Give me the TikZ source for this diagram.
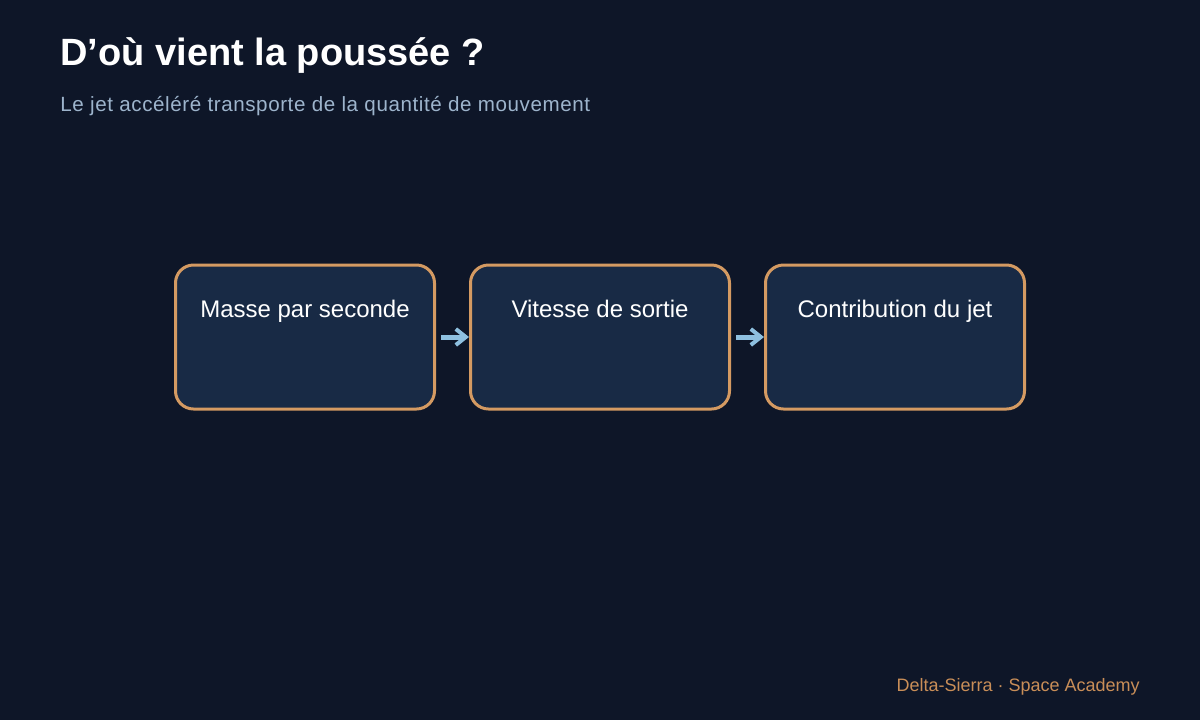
\documentclass[tikz,border=0pt]{standalone}
\usepackage{fontspec}
\setmainfont{Liberation Sans}
\usetikzlibrary{positioning,arrows.meta}
\definecolor{bgcol}{HTML}{0E1628}
\definecolor{boxfill}{HTML}{182A45}
\definecolor{boxline}{HTML}{D49A62}
\definecolor{subcol}{HTML}{9DB4CC}
\definecolor{arrcol}{HTML}{8EC0E0}
\definecolor{footcol}{HTML}{C98E58}
\begin{document}
\begin{tikzpicture}[x=0.5pt,y=-0.5pt]
				\tikzstyle{b}=[rectangle, rounded corners=9pt, draw=boxline, fill=boxfill, line width=1.5pt, minimum width=129.5pt, inner sep=0pt, text height=26pt, text depth=46pt, text=white, font=\fontsize{12}{14}\selectfont]
				\tikzstyle{a}=[draw=arrcol, line width=2.5pt, -{Straight Barb[length=5pt,width=8pt,line width=2pt]}, shorten <=2.5pt]

				\fill[bgcol] (0,0) rectangle (1200,720);

				\node[anchor=base west, text=white, font=\fontsize{19}{22}\selectfont\bfseries, inner sep=0pt] (title) at (60,65) {D’où vient la poussée ?};
				\node[anchor=base west, text=subcol, font=\fontsize{10.3}{12}\addfontfeature{LetterSpace=2.8}, inner sep=0pt] (sub) at (60,111) {Le jet accéléré transporte de la quantité de mouvement};

				\node[b, anchor=base] (mass) at (305,317) {Masse par seconde};
				\node[b] (speed) [right=16.5pt of mass] {Vitesse de sortie};
				\node[b] (jet) [right=16.5pt of speed] {Contribution du jet};

				\foreach \from/\to in {mass/speed,speed/jet}
				\draw [a] (\from) -- (\to);

				\node[anchor=base east, text=footcol, font=\fontsize{9}{11}\selectfont, inner sep=0pt] (foot) at (1140,691) {Delta-Sierra · Space Academy};
			\end{tikzpicture}
\end{document}
